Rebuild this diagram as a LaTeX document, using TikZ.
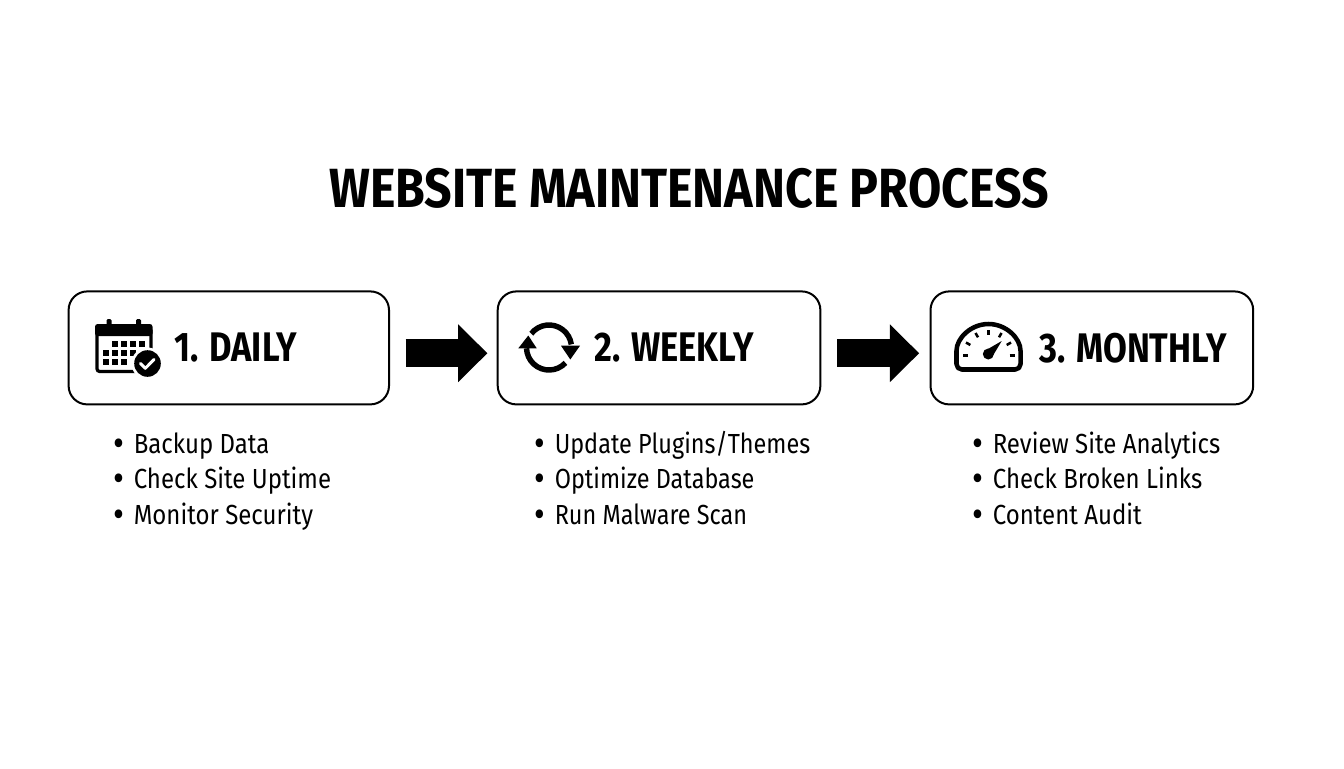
\documentclass[tikz,border=0pt]{standalone}
\usepackage{fontspec}
\setmainfont{Fira Sans}
\newfontfamily\titlefont[FakeStretch=0.874,BoldFont={Fira Sans Bold}]{Fira Sans}
\newfontfamily\headfont[FakeStretch=0.835,BoldFont={Fira Sans Bold}]{Fira Sans}
\newfontfamily\bodyfont[FakeStretch=0.87]{Fira Sans}
\newfontfamily\bodyfontnarrow[FakeStretch=0.85]{Fira Sans}
\newcommand{\taskline}[1]{\makebox[15pt][l]{\raisebox{-2.2pt}{\fontsize{29}{29}\selectfont •}}#1}
\usetikzlibrary{arrows.meta,calc}
\tikzset{
  x=0.75pt,y=-0.75pt,
  stagebox/.style={draw=black,line width=1.5pt,rounded corners=14pt,fill=white,minimum height=84.75pt,inner sep=0pt,outer sep=0pt,anchor=north west},
  stagehead/.style={anchor=west,inner sep=0pt,font=\headfont\bfseries\fontsize{31}{31}\selectfont},
  tasklist/.style={anchor=base west,inner sep=0pt,align=left,font=\bodyfont\fontsize{20.7}{26.5}\selectfont},
  flow/.style={line width=21pt,-{Triangle[length=22pt,width=42pt]},draw=black},
  iconline/.style={draw=black,line width=2.4pt},
  iconfill/.style={fill=black,draw=none}
}
\begin{document}
\begin{tikzpicture}
\useasboundingbox (0,0) rectangle (1344,768);
\fill[white] (0,0) rectangle (1344,768);
\node[inner sep=0pt,font=\titlefont\bfseries\fontsize{41.4}{41.4}\selectfont] (title) at (689,188) {WEBSITE MAINTENANCE PROCESS};

\node[stagebox,minimum width=240.3pt] (daily) at (68.6,291.4) {};
\node[stagebox,minimum width=242pt] (weekly) at (497.7,291.4) {};
\node[stagebox,minimum width=242pt] (monthly) at (930.5,291.4) {};

\draw[flow,shorten <=12.4pt,shorten >=7.7pt] ([yshift=-4pt]daily.east) -- ([yshift=-4pt]weekly.west);
\draw[flow,shorten <=12.5pt,shorten >=8.5pt] ([yshift=-4pt]weekly.east) -- ([yshift=-4pt]monthly.west);

\node[stagehead] (dailyhead) at (174,348) {1. DAILY};
\node[stagehead] (weeklyhead) at (594,348) {2. WEEKLY};
\node[stagehead] (monthlyhead) at (1039,348) {3. MONTHLY};

\node[tasklist] (dailytasks) at (113.5,524.3) {\taskline{Backup Data}\\\taskline{Check Site Uptime}\\\taskline{Monitor Security}};
\node[tasklist,font=\bodyfontnarrow\fontsize{20.7}{26.5}\selectfont] (weeklytasks) at (534.5,524.3) {\taskline{Update Plugins/Themes}\\\taskline{Optimize Database}\\\taskline{Run Malware Scan}};
\node[tasklist] (monthlytasks) at (972.5,524.3) {\taskline{Review Site Analytics}\\\taskline{Check Broken Links}\\\taskline{Content Audit}};

% calendar icon
\draw[iconline,rounded corners=2pt] (97,328) rectangle (151,371.5);
\fill[iconfill,rounded corners=2pt] (95,324) rectangle (152.5,336);
\fill[iconfill,rounded corners=1pt] (106.5,319) rectangle (111.5,328) (136,319) rectangle (141,328);
\foreach \cx/\ry in {111.7/341,120.7/341,129.7/341,138.7/341,
  102.7/350,111.7/350,120.7/350,129.7/350,
  102.7/359,111.7/359,120.7/359}
  \fill[iconfill] (\cx,\ry) rectangle +(6.6,6);
\fill[white] (147.5,363.5) circle (16);
\fill[black] (147.5,363.5) circle (13.3);
\draw[white,line width=2.2pt,line cap=round,line join=round] (140.5,363.5) -- (145.3,368.3) -- (154,359.5);

% sync icon
\draw[black,line width=4.1pt] (549,347.5) ++(-142:22.5) arc (-142:-8:22.5);
\draw[black,line width=4.1pt] (549,347.5) ++(43:22.5) arc (43:178:22.5);
\fill[black] (561,345.7) -- (580,345.7) -- (570.3,359.5) -- cycle;
\fill[black] (518.3,348.3) -- (536.7,348.3) -- (528.3,335.5) -- cycle;

% gauge icon
\draw[black,line width=3.4pt,line join=round,rounded corners=4pt] (956.5,369.5) -- (956.5,356) arc (-180:0:32) -- (1020.5,369.5) -- cycle;
\foreach \a in {0,-30,-60,-90,-120,-150,-180}
  \draw[black,line width=1.9pt] ($(988.5,355.5)+(\a:21)$) -- ($(988.5,355.5)+(\a:26)$);
\fill[black] (988.3,354) circle (5.5);
\fill[black] (984.5,351) -- (1001.7,341) -- (991.5,358) -- cycle;
\end{tikzpicture}
\end{document}
